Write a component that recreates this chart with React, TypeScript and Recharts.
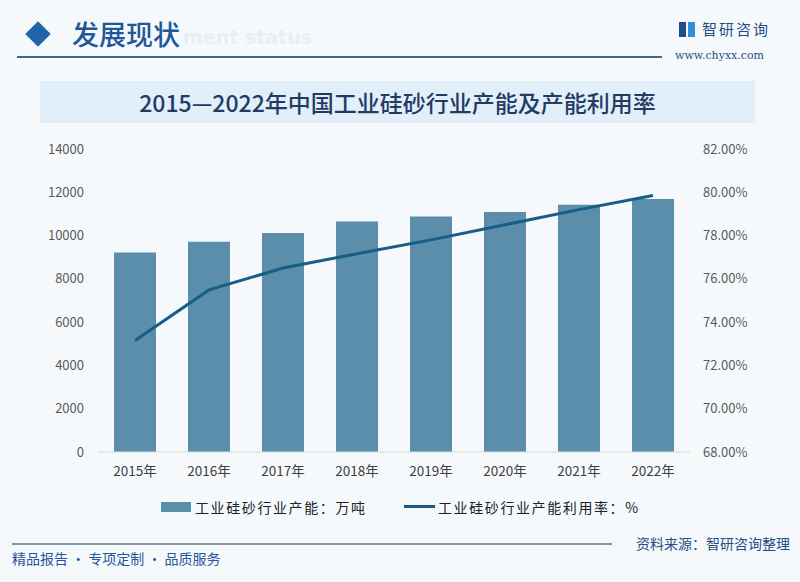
import React from "react";
import { ComposedChart, Bar, Line, XAxis, YAxis, Legend } from "recharts";

const years = ["2015年", "2016年", "2017年", "2018年", "2019年", "2020年", "2021年", "2022年"];
const capacity = [9220, 9710, 10120, 10650, 10880, 11090, 11420, 11690];
const utilization = [73.15, 75.49, 76.5, 77.16, 77.8, 78.5, 79.2, 79.85];
const leftTicks = [0, 2000, 4000, 6000, 8000, 10000, 12000, 14000];
const rightTicks = [68, 70, 72, 74, 76, 78, 80, 82];

const title = "2015—2022年中国工业硅砂行业产能及产能利用率";
const barName = "工业硅砂行业产能：万吨";
const lineName = "工业硅砂行业产能利用率：%";

const data = years.map((y, i) => ({ year: y, cap: capacity[i], rate: utilization[i] }));

const FONT = '"Noto Sans CJK SC", "Noto Sans", sans-serif';
const BAR_COLOR = "#5a8eab";
const LINE_COLOR = "#175e86";

const LegendContent = () => (
  <div style={{ position: "relative", width: 800, height: 20, fontFamily: FONT }}>
    <div style={{ position: "absolute", left: 161, top: 5, width: 30, height: 10, background: BAR_COLOR }} />
    <div style={{ position: "absolute", left: 195, top: 0, fontSize: 14, letterSpacing: 1.6, color: "#222", lineHeight: "20px", whiteSpace: "nowrap" }}>{barName}</div>
    <div style={{ position: "absolute", left: 404, top: 8, width: 31, height: 3, background: LINE_COLOR }} />
    <div style={{ position: "absolute", left: 438, top: 0, fontSize: 14, letterSpacing: 1.6, color: "#222", lineHeight: "20px", whiteSpace: "nowrap" }}>{lineName}</div>
  </div>
);

export default function App() {
  return (
    <div style={{ position: "fixed", left: 0, top: 0, width: 800, height: 582, background: "#f6f9fc", overflow: "hidden", fontFamily: FONT }}>
      {/* header */}
      <div style={{ position: "absolute", left: 183, top: 26, fontSize: 19, fontWeight: 700, color: "#e6eef7", fontFamily: '"DejaVu Sans", sans-serif', whiteSpace: "nowrap" }}>ment status</div>
      <div style={{ position: "absolute", left: 29, top: 25, width: 18, height: 18, background: "#1f65a8", transform: "rotate(45deg)" }} />
      <div style={{ position: "absolute", left: 72, top: 15, fontSize: 27, fontWeight: 500, color: "#1e5898", whiteSpace: "nowrap", lineHeight: "38px" }}>发展现状</div>
      <div style={{ position: "absolute", left: 17, top: 56, width: 645, height: 1.5, background: "#3d6b8a" }} />
      {/* logo */}
      <div style={{ position: "absolute", left: 679, top: 22, width: 7, height: 15, background: "#1f4e8a" }} />
      <div style={{ position: "absolute", left: 688, top: 22, width: 7, height: 15, background: "#2f8fd8" }} />
      <div style={{ position: "absolute", left: 702, top: 18, fontSize: 15, color: "#1e4f85", whiteSpace: "nowrap", letterSpacing: 2 }}>智研咨询</div>
      <div style={{ position: "absolute", left: 675, top: 49, fontSize: 11, color: "#1e4f85", whiteSpace: "nowrap", fontFamily: '"DejaVu Serif", serif' }}>www.chyxx.com</div>
      {/* title bar */}
      <div style={{ position: "absolute", left: 40, top: 81, width: 715, height: 42, background: "#e2eef8" }} />
      <div style={{ position: "absolute", left: 40, top: 81, width: 715, height: 42, textAlign: "center", lineHeight: "42px", fontSize: 23, fontWeight: 500, color: "#1f3b66", whiteSpace: "nowrap" }}>{title}</div>

      <div style={{ position: "absolute", left: 0, top: 0 }}>
        <ComposedChart width={800} height={582} data={data} margin={{ top: 149, right: 0, bottom: 80, left: 0 }} barCategoryGap={16}>
          <XAxis dataKey="year" axisLine={{ stroke: "#d9d9d9" }} tickLine={false} tickMargin={8} height={30}
            tick={{ fill: "#404040", fontSize: 13.5, fontFamily: FONT }} interval={0} />
          <YAxis yAxisId="left" width={98} domain={[0, 14000]} ticks={leftTicks} axisLine={false} tickLine={false} tickMargin={8}
            tick={{ fill: "#595959", fontSize: 13, fontFamily: FONT }} />
          <YAxis yAxisId="right" orientation="right" width={110} domain={[68, 82]} ticks={rightTicks} axisLine={false} tickLine={false} tickMargin={7}
            tickFormatter={(v: number) => `${v.toFixed(2)}%`} tick={{ fill: "#595959", fontSize: 13, fontFamily: FONT, textAnchor: "start" }} />
          <Bar yAxisId="left" dataKey="cap" name={barName} fill={BAR_COLOR} barSize={42} isAnimationActive={false} />
          <Line yAxisId="right" dataKey="rate" name={lineName} type="linear" stroke={LINE_COLOR} strokeWidth={3} dot={false} activeDot={false} isAnimationActive={false} />
          <Legend verticalAlign="bottom" content={<LegendContent />} wrapperStyle={{ position: "absolute", left: 0, top: 497, width: 800, bottom: "auto" }} />
        </ComposedChart>
      </div>

      {/* footer */}
      <div style={{ position: "absolute", left: 12, top: 543, width: 600, height: 1.5, background: "#7f97a8" }} />
      <div style={{ position: "absolute", left: 12, top: 548, fontSize: 14, color: "#1e5898", whiteSpace: "nowrap" }}>精品报告 · 专项定制 · 品质服务</div>
      <div style={{ position: "absolute", right: 10, top: 533, fontSize: 14, color: "#1e4f85", whiteSpace: "nowrap" }}>资料来源：智研咨询整理</div>
    </div>
  );
}
